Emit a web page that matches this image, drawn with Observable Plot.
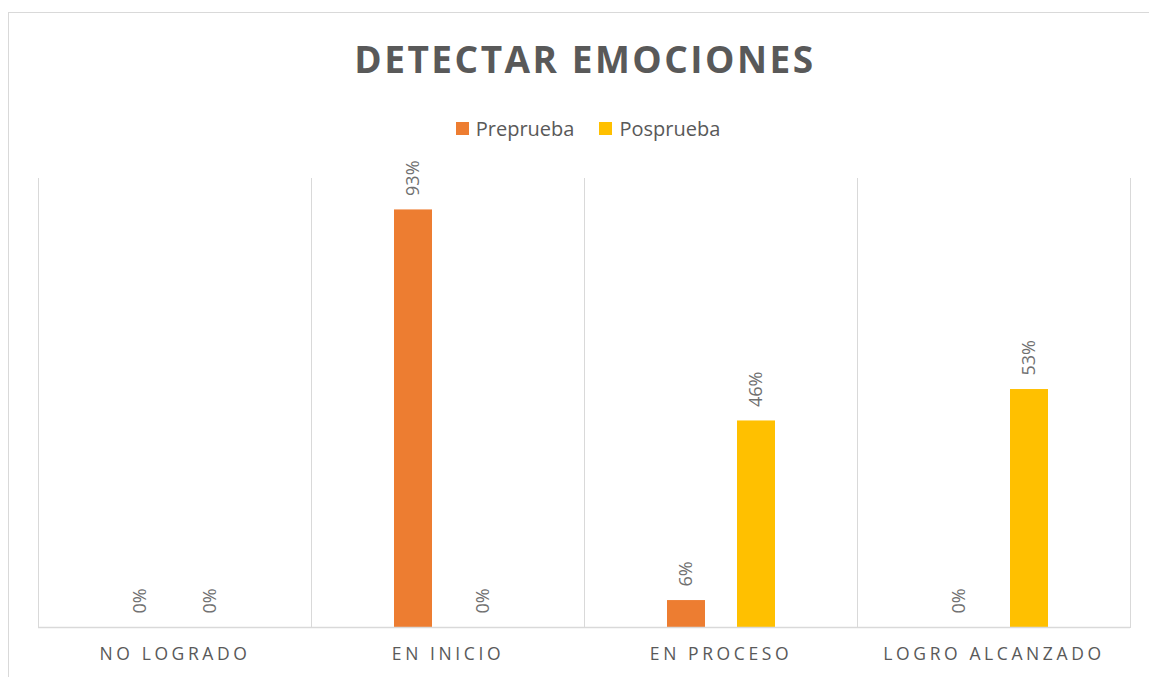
<!DOCTYPE html>
<html>
<head>
<meta charset="utf-8">
<script src="https://cdn.jsdelivr.net/npm/d3@7"></script>
<script src="https://cdn.jsdelivr.net/npm/@observablehq/plot@0.6"></script>
<style>
  html, body { margin: 0; padding: 0; background: #fff; }
  body { width: 1149px; height: 677px; position: relative; overflow: hidden; font-family: "Open Sans", sans-serif; }
  #frame { position: absolute; left: 8px; top: 12px; width: 1160px; height: 700px; border: 1px solid #d9d9d9; box-sizing: border-box; }
  #title { position: absolute; left: 8px; width: 1154px; top: 40px; line-height: 37px; font-size: 37px; font-weight: 700; color: #595959; text-align: center; letter-spacing: 2.5px; }
  #legend { position: absolute; left: 8px; width: 1160px; top: 115px; height: 26px; display: flex; justify-content: center; align-items: center; gap: 25px; font-size: 20px; color: #595959; }
  .item { display: flex; align-items: center; gap: 7px; }
  .sw { width: 13px; height: 13px; display: inline-block; }
  #chart { position: absolute; left: 0; top: 150px; }
  #chart g[aria-label="fx-axis tick label"] text { letter-spacing: 3.6px; }
</style>
</head>
<body>
<div id="frame"></div>
<div id="title">DETECTAR EMOCIONES</div>
<div id="legend"></div>
<div id="chart"></div>
<script>
const categories = ["NO LOGRADO", "EN INICIO", "EN PROCESO", "LOGRO ALCANZADO"];
const series = ["Preprueba", "Posprueba"];
const colors = ["#ED7D31", "#FFC000"];
const preprueba = [0, 93, 6, 0];
const posprueba = [0, 0, 46, 53];

const data = [];
categories.forEach((c, i) => {
  data.push({cat: c, serie: "Preprueba", value: preprueba[i]});
  data.push({cat: c, serie: "Posprueba", value: posprueba[i]});
});

const legend = document.getElementById("legend");
series.forEach((s, i) => {
  const it = document.createElement("div");
  it.className = "item";
  it.innerHTML = `<span class="sw" style="background:${colors[i]}"></span><span>${s}</span>`;
  legend.appendChild(it);
});

const chart = Plot.plot({
  width: 1149,
  height: 527,
  marginTop: 28,
  marginBottom: 50,
  marginLeft: 38,
  marginRight: 19,
  style: {fontFamily: "Open Sans", fontSize: "17.5px", color: "#595959", background: "transparent"},
  fx: {domain: categories, padding: 0, label: null, tickSize: 0, tickPadding: 20},
  x: {type: "band", domain: series, paddingInner: 32 / 70, paddingOuter: 1.17, axis: null},
  y: {domain: [0, 100], axis: null},
  color: {domain: series, range: colors},
  marks: [
    Plot.frame({anchor: "left", stroke: "#d9d9d9", strokeOpacity: 1}),
    Plot.frame({anchor: "right", stroke: "#d9d9d9", strokeOpacity: 1}),
    Plot.barY(data, {fx: "cat", x: "serie", y: "value", fill: "serie"}),
    Plot.ruleY([0], {stroke: "#d9d9d9", strokeWidth: 1.5}),
    Plot.text(data, {fx: "cat", x: "serie", y: "value", text: d => d.value + "%", rotate: -90, textAnchor: "start", dy: -14, fill: "#707070", fontSize: 18})
  ]
});
document.getElementById("chart").appendChild(chart);
</script>
</body>
</html>
